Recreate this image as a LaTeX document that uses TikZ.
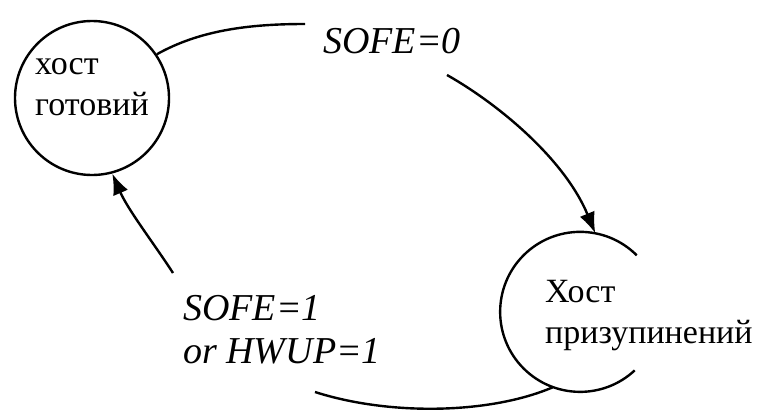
\documentclass[tikz,border=0pt]{standalone}
\usepackage{fontspec}
\setmainfont{Liberation Serif}
\newfontfamily\diagserif{Liberation Serif}
\usetikzlibrary{arrows.meta}
\begin{document}
\begin{tikzpicture}[x=1pt,y=-1pt,
  conn/.style={line width=2.4pt,draw=black},
  arr/.style={conn,-{Latex[length=21pt,width=16pt]}},
  statecirc/.style={circle,inner sep=0pt,minimum size=#1},
  txt/.style={font=\diagserif\fontsize{34}{41}\selectfont,align=left,inner sep=0pt,anchor=base west},
  lab/.style={font=\diagserif\fontsize{38}{43}\selectfont\itshape,align=left,inner sep=0pt,anchor=base west}]
\fill[white] (0,0) rectangle (758,415);
\useasboundingbox (0,0) rectangle (758,415);
% states
\node[statecirc=154pt,conn] (L) at (92,98) {};
\node[statecirc=160pt] (R) at (580,312) {};
\draw[conn] (R.45) arc[start angle=45,end angle=313,radius=80pt];
% state texts
\node[txt] (tL) at (35,115) {хост\\готовий};
\node[txt] (tR) at (545,343) {Хост\\призупинений};
% labels
\node[lab] (s0) at (323,53) {SOFE=0};
\node[lab] (s1) at (183,363) {SOFE=1\\or HWUP=1};
% free ends
\coordinate (a1) at (305,24);
\coordinate (a2) at (447,75);
\coordinate (b1) at (315,392);
\coordinate (b2) at (173,273);
% connectors
\draw[conn] (L.34) .. controls (200,30) and (250,24) .. (a1);
\draw[arr] (a2) .. controls (500,105) and (565,160) .. (R.79);
\draw[conn] (R.-110) .. controls (490,414) and (390,416) .. (b1);
\draw[arr] (b2) .. controls (155,245) and (128,210) .. (L.-75);
\end{tikzpicture}
\end{document}
